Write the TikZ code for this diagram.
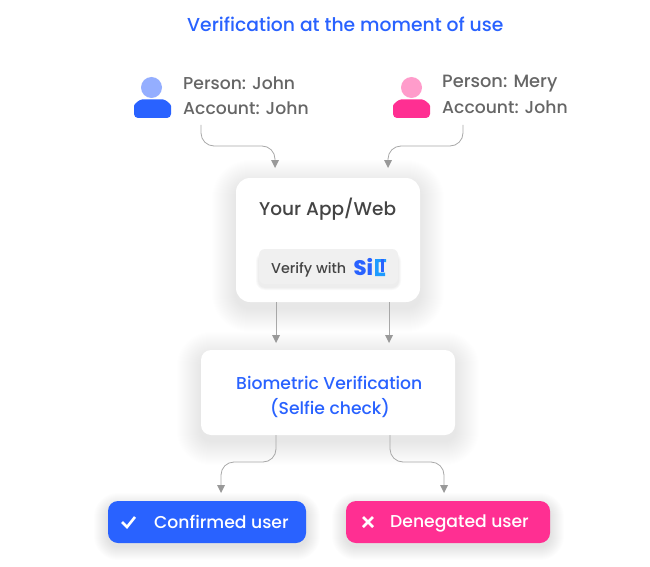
\documentclass[tikz,border=0pt]{standalone}
\usepackage{fontspec}
\setmainfont{Poppins Medium}
\definecolor{tblue}{HTML}{2962FF}
\definecolor{tpink}{HTML}{FF2F92}
\definecolor{lblue}{HTML}{94AEFF}
\definecolor{lpink}{HTML}{FF9CCB}
\definecolor{tgray}{HTML}{666666}
\definecolor{dgray}{HTML}{444444}
\definecolor{cline}{HTML}{A8A8A8}
\definecolor{ctip}{HTML}{999999}
\definecolor{btn}{HTML}{F0F0F0}
\definecolor{sky}{HTML}{1E9BFF}
\tikzset{
 x=1pt,y=-1pt,
 conn/.style={draw=cline,line width=0.8pt,rounded corners=13pt},
 tip/.style={fill=ctip,draw=none},
 txt/.style={inner sep=0pt,anchor=base west,font=\fontsize{17.2}{18}\selectfont},
 label/.style={txt,text=tgray},
}
% soft shadow: stacked translucent rounded rectangles
\newcommand{\softshadow}[7]{% x1 y1 x2 y2 radius spread opacity
  \foreach \s in {1,...,#6}{
    \fill[black,opacity=#7,rounded corners=#5pt+\s pt]
      (#1-\s,#2-\s+6) rectangle (#3+\s,#4+\s+6);
  }
}
\newcommand{\arrowtip}[2]{\fill[tip] (#1-4,#2-8) -- (#1+4,#2-8) -- (#1,#2) -- cycle;}
\begin{document}
\begin{tikzpicture}
\useasboundingbox[fill=white] (0,0) rectangle (650,567);

% title
\node[txt,text=tblue,font=\fontsize{18.75}{19}\selectfont] (title) at (187,32) {Verification at the moment of use};

% persons
\fill[lblue] (151.5,87.5) circle (10.5);
\fill[tblue,rounded corners=4pt] (134,118) -- (134,110) to[out=90,in=180] (146,99.5) -- (159,99.5) to[out=0,in=90] (171,110) -- (171,118) -- cycle;
\node[label] (p1) at (183,89.5) {Person: John};
\node[label] (a1) at (183,115) {Account: John};
\fill[lpink] (411.5,87.5) circle (10.5);
\fill[tpink,rounded corners=4pt] (393,118) -- (393,110) to[out=90,in=180] (405,99.5) -- (418,99.5) to[out=0,in=90] (430,110) -- (430,118) -- cycle;
\node[label,font=\fontsize{17.8}{18}\selectfont] (p2) at (442,88) {Person: Mery};
\node[label] (a2) at (442,113.5) {Account: John};

% boxes
\softshadow{236}{178}{420}{302}{14}{24}{0.003}
\node[fill=white,rounded corners=14pt,minimum width=184pt,minimum height=124pt,inner sep=0pt] (app) at (328,240) {};
\node[txt,text=dgray,font=\fontsize{18.5}{19}\selectfont] (applabel) at (259,215) {Your App/Web};
\softshadow{259}{249}{398}{281}{6}{3}{0.025}
\node[fill=btn,rounded corners=6pt,minimum width=139pt,minimum height=35pt,inner sep=0pt] (button) at (328.5,266.5) {};
\node[txt,text=dgray,font=\fontsize{14.3}{15}\selectfont] (verify) at (271,273) {Verify with};
\node[txt,text=tblue,font=\fontsize{21}{21}\selectfont\bfseries] (silt) at (353.5,275.5) {Si};
\fill[sky] (375,259) rectangle (378.5,276) (375,272.5) rectangle (385,276) (378,259) rectangle (386,262);
\fill[tblue] (380.5,259) rectangle (383.5,272);

\softshadow{201}{350}{455}{435}{10}{24}{0.003}
\node[fill=white,rounded corners=10pt,minimum width=254pt,minimum height=85pt,inner sep=0pt] (bio) at (328,392.5) {};
\node[txt,text=tblue] (biol1) at (236,389) {Biometric Verification};
\node[txt,text=tblue] (biol2) at (270,414) {(Selfie check)};

\softshadow{108}{501}{306}{540}{10}{14}{0.006}
\node[fill=tblue,rounded corners=10pt,minimum width=198pt,minimum height=42pt,inner sep=0pt] (ok) at (207,522) {};
\node[txt,text=white] (oklabel) at (154,528) {Confirmed user};
\draw[white,line width=2.6pt] (122,522) -- (127,527) -- (135,517);

\softshadow{346}{501}{550}{540}{10}{14}{0.006}
\node[fill=tpink,rounded corners=10pt,minimum width=204pt,minimum height=42pt,inner sep=0pt] (no) at (448,522) {};
\node[txt,text=white] (nolabel) at (390,527.5) {Denegated user};
\draw[white,line width=2.8pt] (363,517) -- (373,527) (373,517) -- (363,527);

% connectors
\coordinate (s1) at (201,125); \coordinate (e1) at (275,160);
\coordinate (s2) at (463,125); \coordinate (e2) at (388,160);
\draw[conn] (s1) |- (238,146) -| (e1);
\arrowtip{275}{168}
\draw[conn] (s2) |- (425,146) -| (e2);
\arrowtip{388}{168}
\coordinate (m1) at (276,302); \coordinate (m1e) at (276,335);
\coordinate (m2) at (389,302); \coordinate (m2e) at (389,335);
\draw[conn] (m1) -- (m1e); \arrowtip{276}{343}
\draw[conn] (m2) -- (m2e); \arrowtip{389}{343}
\coordinate (b1) at (276,435); \coordinate (b1e) at (221,485);
\coordinate (b2) at (390,435); \coordinate (b2e) at (444,485);
\draw[conn] (b1) |- (248,462) -| (b1e); \arrowtip{221}{493}
\draw[conn] (b2) |- (417,462) -| (b2e); \arrowtip{444}{493}
\end{tikzpicture}
\end{document}
